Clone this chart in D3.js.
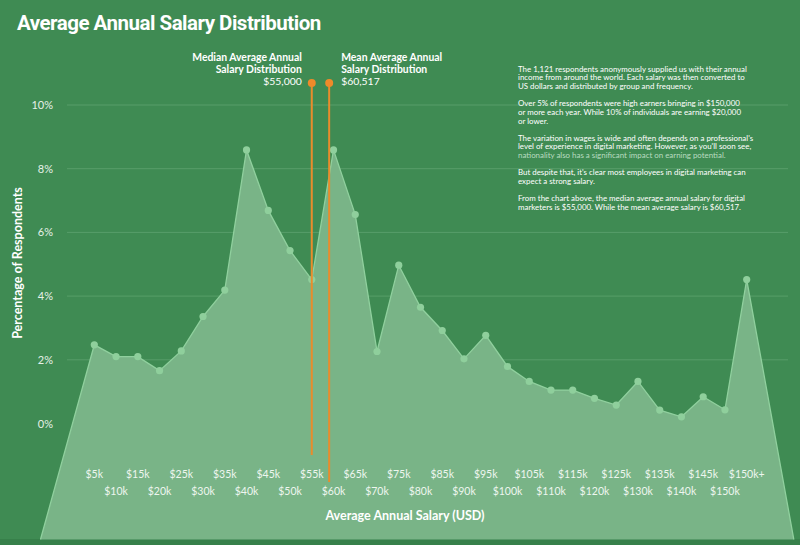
<!DOCTYPE html>
<html><head><meta charset="utf-8">
<script src="https://cdn.jsdelivr.net/npm/d3@7"></script>
<style>html,body{margin:0;padding:0;background:#3f8b53;}svg{display:block;}</style>
</head><body>
<svg id="c" width="800" height="545"></svg>
<script>
const categories = ["$5k","$10k","$15k","$20k","$25k","$30k","$35k","$40k","$45k","$50k","$55k","$60k","$65k","$70k","$75k","$80k","$85k","$90k","$95k","$100k","$105k","$110k","$115k","$120k","$125k","$130k","$135k","$140k","$145k","$150k","$150k+"];
const percentages = [2.47,2.10,2.10,1.66,2.28,3.36,4.19,8.59,6.69,5.43,4.52,8.59,6.56,2.26,4.97,3.65,2.92,2.03,2.77,1.79,1.32,1.05,1.05,0.79,0.58,1.32,0.42,0.21,0.84,0.43,4.52];
const yTicks = [0,2,4,6,8,10];
const markers = [
  {name:"median", lines:["Median Average Annual","Salary Distribution","$55,000"], at:10.0},
  {name:"mean", lines:["Mean Average Annual","Salary Distribution","$60,517"], at:10.8}
];
const paragraphs = [
  ["The 1,121 respondents anonymously supplied us with their annual","income from around the world. Each salary was then converted to","US dollars and distributed by group and frequency."],
  ["Over 5% of respondents were high earners bringing in $150,000","or more each year. While 10% of individuals are earning $20,000","or lower."],
  ["The variation in wages is wide and often depends on a professional's","level of experience in digital marketing. However, as you'll soon see,","nationality also has a significant impact on earning potential."],
  ["But despite that, it's clear most employees in digital marketing can","expect a strong salary."],
  ["From the chart above, the median average annual salary for digital","marketers is $55,000. While the mean average salary is $60,517."]
];

const svg = d3.select("#c");
const W = 800, H = 545;
svg.append("rect").attr("width",W).attr("height",H).attr("fill","#3f8b53");
svg.append("rect").attr("y",539).attr("width",W).attr("height",6).attr("fill","#37804a");

const x = d3.scaleLinear().domain([0, categories.length-1]).range([94.3, 746.7]);
const y = d3.scaleLinear().domain([0,10]).range([423.5,105]);
const yBottom = 539.5;

// gridlines
svg.append("g").selectAll("line").data(yTicks.filter(d=>d>0)).join("line")
  .attr("x1",67).attr("x2",788)
  .attr("y1",d=>y(d)).attr("y2",d=>y(d))
  .attr("stroke","#5fa370").attr("stroke-width",1).attr("opacity",0.8);

// y labels
svg.append("g").selectAll("text").data(yTicks).join("text")
  .attr("x",53).attr("y",d=>y(d)+4)
  .attr("text-anchor","end")
  .attr("font-family","Lato, sans-serif").attr("font-size",11)
  .attr("fill","#e6f1e8")
  .text(d=>d+"%");

// area polygon
const pts = percentages.map((v,i)=>[x(i), y(v)]);
const n = percentages.length;
const lp0 = [x(-1), y(0)], lp1 = pts[0];
const leftB = [lp0[0] + (lp0[0]-lp1[0])*(yBottom-lp0[1])/(lp0[1]-lp1[1]), yBottom];
const rp0 = [x(n+0.2), y(0)], rp1 = pts[n-1];
const rightB = [rp0[0] + (rp0[0]-rp1[0])*(yBottom-rp0[1])/(rp0[1]-rp1[1]), yBottom];
const poly = [leftB, ...pts, rightB];
svg.append("path").attr("d", d3.line()(poly)+"Z").attr("fill","#79b487");
svg.append("path").attr("d", d3.line()(poly)).attr("fill","none")
  .attr("stroke","#90d09e").attr("stroke-width",1.3);

// dots
svg.append("g").selectAll("circle").data(percentages).join("circle")
  .attr("cx",(d,i)=>x(i)).attr("cy",d=>y(d)).attr("r",3.6)
  .attr("fill","#8fcf9c");

// x labels
svg.append("g").selectAll("text").data(categories).join("text")
  .attr("x",(d,i)=>x(i)).attr("y",(d,i)=> i%2===0 ? 477.5 : 495)
  .attr("text-anchor","middle")
  .attr("font-family","Lato, sans-serif").attr("font-size",10.5)
  .attr("fill","#eef6ef")
  .text(d=>d);

// marker lines
const mEnds = {median:455, mean:482};
markers.forEach(m=>{
  const mx = x(m.at);
  svg.append("line").attr("x1",mx).attr("x2",mx).attr("y1",83).attr("y2",mEnds[m.name])
    .attr("stroke","#e98c2c").attr("stroke-width",2);
  svg.append("circle").attr("cx",mx).attr("cy",83).attr("r",4).attr("fill","#ef8a2a");
  const t = svg.append("text")
    .attr("font-family","Lato, sans-serif").attr("font-size",10.4).attr("fill","#ffffff")
    .attr("text-anchor", m.name==="median" ? "end" : "start");
  m.lines.forEach((l,k)=>{
    t.append("tspan").attr("x", m.name==="median" ? mx-10 : mx+12)
      .attr("y", 61 + k*12).attr("font-weight", k<2 ? 700 : 400).text(l);
  });
});

// title
svg.append("text").attr("x",17).attr("y",30)
  .attr("font-family","Roboto, sans-serif").attr("font-weight",700).attr("font-size",20.5)
  .attr("letter-spacing",-0.5)
  .attr("fill","#ffffff").text("Average Annual Salary Distribution");

// axis titles
svg.append("text").attr("transform","translate(22,263) rotate(-90)")
  .attr("text-anchor","middle").attr("font-family","Lato, sans-serif").attr("font-weight",700)
  .attr("font-size",12.5).attr("fill","#ffffff").text("Percentage of Respondents");
svg.append("text").attr("x",405).attr("y",520)
  .attr("text-anchor","middle").attr("font-family","Lato, sans-serif").attr("font-weight",700)
  .attr("font-size",12.5).attr("fill","#ffffff").text("Average Annual Salary (USD)");

// paragraphs
let py = 71.5;
paragraphs.forEach((p,pi)=>{
  p.forEach((l,li)=>{
    svg.append("text").attr("x",518).attr("y",py)
      .attr("font-family","Lato, sans-serif").attr("font-size",7.9)
      .attr("fill", (pi===2 && li===2) ? "#b9dcc0" : "#ffffff").text(l);
    py += 8.7;
  });
  py += 8.5;
});
</script>
</body></html>
